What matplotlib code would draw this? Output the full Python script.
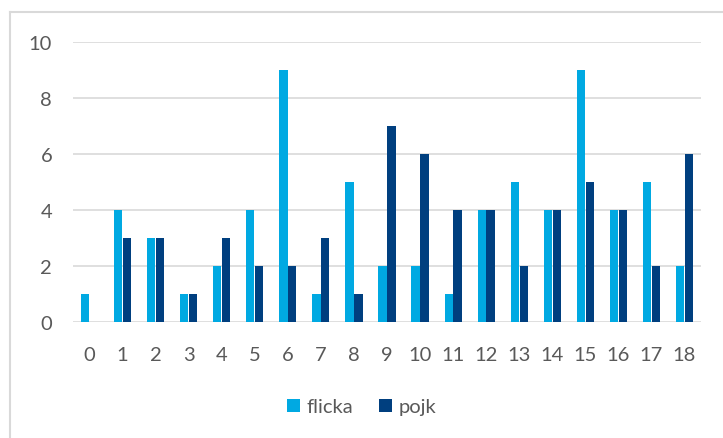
import numpy as np
import matplotlib.pyplot as plt
from matplotlib.lines import Line2D

ages = list(range(19))
flicka = [1, 4, 3, 1, 2, 4, 9, 1, 5, 2, 2, 1, 4, 5, 4, 9, 4, 5, 2]
pojk = [0, 3, 3, 1, 3, 2, 2, 3, 1, 7, 6, 4, 4, 2, 4, 5, 4, 2, 6]

light = '#00A9E2'
dark = '#003F7F'
grey = '#595959'

plt.rcParams['font.family'] = ['Lato', 'DejaVu Sans']

fig = plt.figure(figsize=(7.23, 4.39), dpi=100)
ax = fig.add_axes([73 / 723, 1 - 323 / 439, 628 / 723, 280 / 439])

x = np.arange(len(ages))
w = 0.25
ax.bar(x - 0.135, flicka, width=w, color=light, label='flicka', zorder=3)
ax.bar(x + 0.135, pojk, width=w, color=dark, label='pojk', zorder=3)

ax.set_xlim(-0.5, 18.5)
ax.set_ylim(0, 10)
ax.set_yticks(range(0, 11, 2))
ax.set_xticks(x)
ax.set_xticklabels([str(a) for a in ages])
ax.grid(axis='y', color='#D9D9D9', lw=1.2, zorder=0)
for s in ax.spines.values():
    s.set_visible(False)
ax.tick_params(length=0, labelsize=14.5, labelcolor=grey)
ax.tick_params(axis='y', pad=15)
ax.tick_params(axis='x', pad=17)

leg = fig.legend(loc='center', bbox_to_anchor=(0.5, 1 - 408 / 439), ncol=2,
                 frameon=False, fontsize=14.5, handlelength=0.65, handleheight=0.65,
                 handletextpad=0.3, columnspacing=1.3)
for t in leg.get_texts():
    t.set_color(grey)

# chart frame
fig.add_artist(Line2D([10 / 723, 10 / 723], [0, 1 - 13 / 439],
                      transform=fig.transFigure, color='#D9D9D9', lw=1.5))
fig.add_artist(Line2D([10 / 723, 1], [1 - 13 / 439, 1 - 13 / 439],
                      transform=fig.transFigure, color='#D9D9D9', lw=1.5))

fig.savefig('out.png', dpi=100)
